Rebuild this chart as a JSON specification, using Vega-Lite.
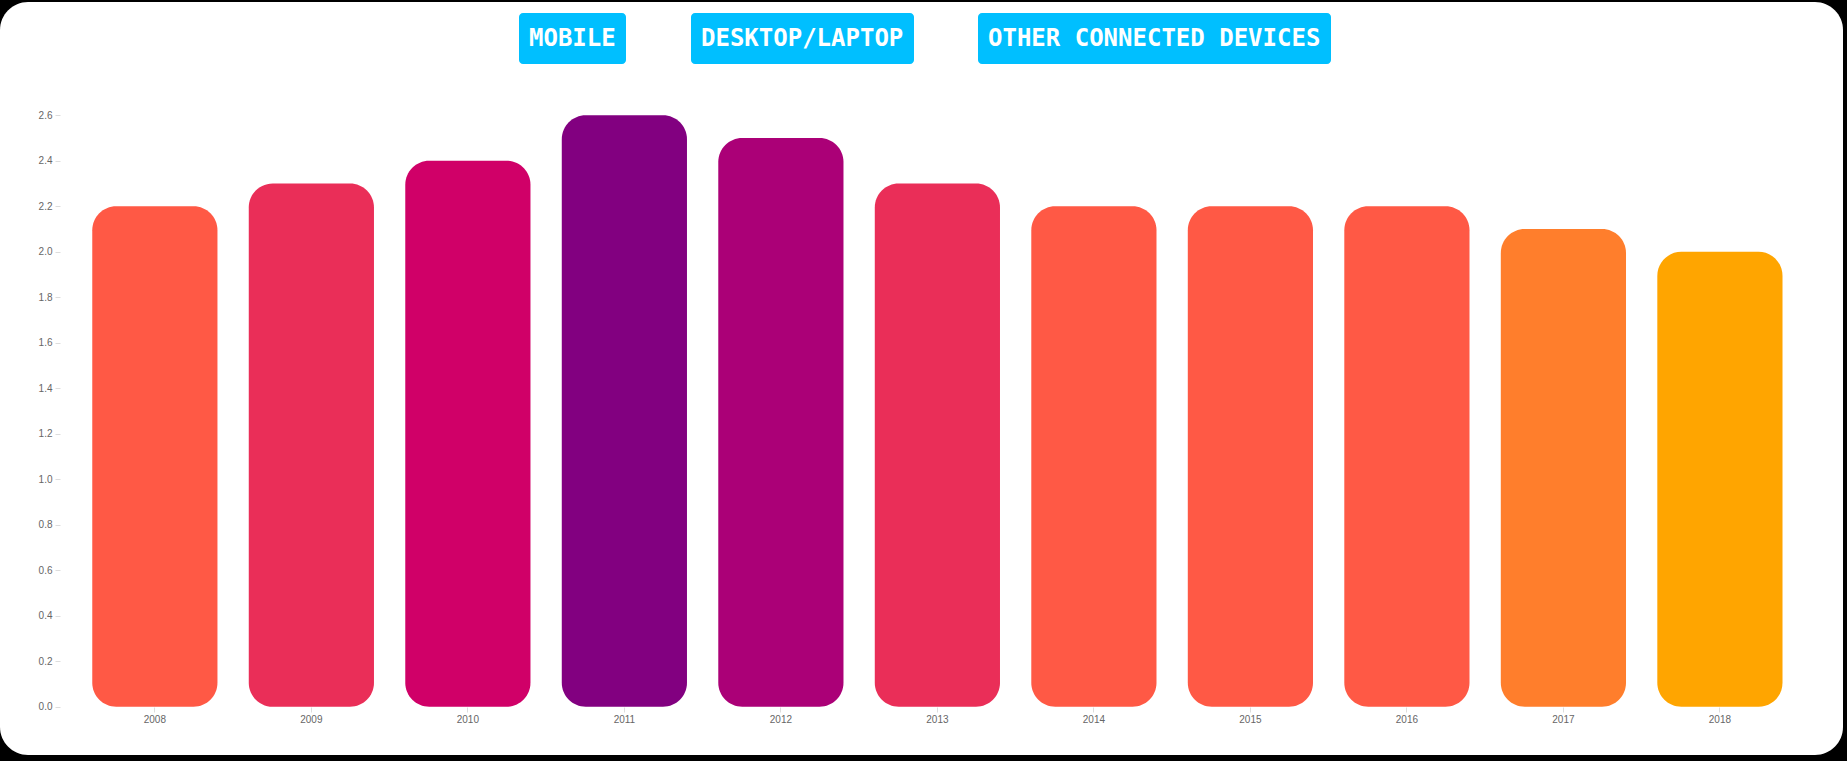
{
  "$schema": "https://vega.github.io/schema/vega-lite/v6.json",
  "width": 1843,
  "height": 753,
  "autosize": {"type": "none"},
  "padding": {"left": 0, "top": 2, "right": 4, "bottom": 6},
  "background": "black",
  "view": {"fill": "white", "stroke": "transparent", "strokeWidth": 0, "cornerRadius": 28},
  "config": {
    "font": "Liberation Sans",
    "legend": {
      "orient": "none",
      "title": null,
      "fillColor": "#00BFFF",
      "cornerRadius": 4,
      "padding": 10,
      "labelFont": "DejaVu Sans Mono",
      "labelFontSize": 24,
      "labelFontWeight": "bold",
      "labelColor": "white",
      "labelLimit": 0,
      "labelOffset": -31,
      "symbolSize": 961,
      "symbolOpacity": 0,
      "symbolStrokeWidth": 0
    }
  },
  "datasets": {
    "years": [
      {"year": "2008", "value": 2.2},
      {"year": "2009", "value": 2.3},
      {"year": "2010", "value": 2.4},
      {"year": "2011", "value": 2.6},
      {"year": "2012", "value": 2.5},
      {"year": "2013", "value": 2.3},
      {"year": "2014", "value": 2.2},
      {"year": "2015", "value": 2.2},
      {"year": "2016", "value": 2.2},
      {"year": "2017", "value": 2.1},
      {"year": "2018", "value": 2.0}
    ],
    "buttons": [
      {"mobile": "MOBILE", "desktop": "DESKTOP/LAPTOP", "other": "OTHER CONNECTED DEVICES"}
    ]
  },
  "layer": [
    {
      "data": {"name": "years"},
      "mark": {"type": "bar", "cornerRadius": 24},
      "encoding": {
        "x": {
          "field": "year",
          "type": "ordinal",
          "scale": {"paddingInner": 0.2, "paddingOuter": 0.488, "align": 0.604},
          "axis": {
            "title": null,
            "labelAngle": 0,
            "offset": -48,
            "domain": false,
            "grid": false,
            "tickColor": "#dddddd",
            "tickSize": 5,
            "labelColor": "#666666",
            "labelFontSize": 10,
            "labelPadding": 2
          }
        },
        "y": {
          "field": "value",
          "type": "quantitative",
          "scale": {"domain": [-0.212, 3.098], "nice": false, "zero": false},
          "axis": {
            "title": null,
            "offset": -60,
            "domain": false,
            "grid": false,
            "values": [0, 0.2, 0.4, 0.6, 0.8, 1.0, 1.2, 1.4, 1.6, 1.8, 2.0, 2.2, 2.4, 2.6],
            "format": ".1f",
            "tickColor": "#dddddd",
            "tickSize": 5,
            "labelColor": "#666666",
            "labelFontSize": 10,
            "labelPadding": 3
          }
        },
        "y2": {"datum": 0},
        "color": {
          "field": "value",
          "type": "quantitative",
          "scale": {
            "domain": [2.0, 2.1, 2.2, 2.3, 2.4, 2.5, 2.6],
            "range": ["#FFA500", "#FF7E2C", "#FF5945", "#EA2E58", "#D00068", "#AB0077", "#820080"],
            "interpolate": "rgb"
          },
          "legend": null
        }
      }
    },
    {
      "data": {"name": "buttons"},
      "mark": {"type": "point", "opacity": 0},
      "encoding": {
        "fill": {"field": "mobile", "type": "nominal", "legend": {"legendX": 519, "legendY": 11}},
        "stroke": {"field": "desktop", "type": "nominal", "legend": {"legendX": 691, "legendY": 11}},
        "shape": {"field": "other", "type": "nominal", "legend": {"legendX": 978, "legendY": 11}}
      }
    }
  ]
}
